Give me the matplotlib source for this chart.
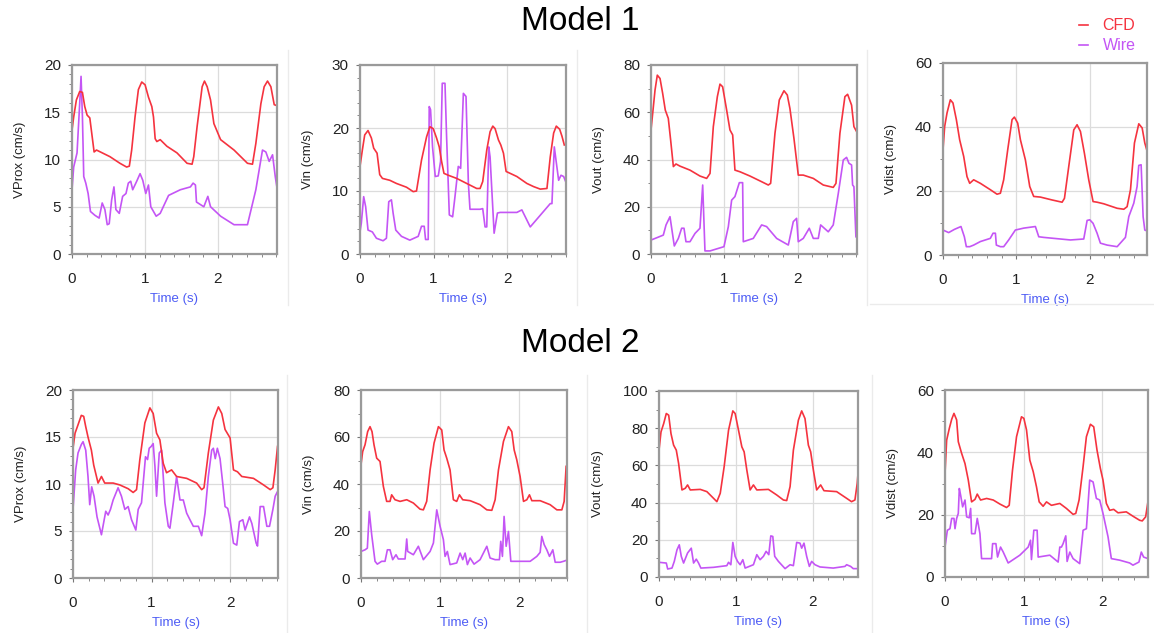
import numpy as np
import matplotlib.pyplot as plt
from matplotlib.lines import Line2D
from matplotlib.ticker import MultipleLocator

plt.rcParams['font.family'] = ['Liberation Sans', 'DejaVu Sans']

RED = '#f5333f'
PURPLE = '#c455f5'
BLUE = '#4d5cf5'

# ---- Model 1 : (time s, velocity cm/s) ----
m1_prox_cfd = [(0, 13.1), (0.023, 14.5), (0.06, 16.3), (0.106, 17.2), (0.143, 17.1), (0.175, 15.6),
               (0.207, 14.7), (0.244, 14.4), (0.303, 10.8), (0.336, 11.0), (0.52, 10.3), (0.657, 9.6),
               (0.749, 9.2), (0.786, 9.3), (0.818, 11.0), (0.864, 14.5), (0.91, 17.4), (0.956, 18.2),
               (1.002, 17.9), (1.048, 16.6), (1.094, 15.6), (1.117, 14.5), (1.14, 12.2), (1.163, 11.9),
               (1.209, 12.1), (1.301, 11.4), (1.439, 10.7), (1.577, 9.6), (1.646, 9.5), (1.669, 10.3),
               (1.715, 13.5), (1.784, 17.7), (1.816, 18.3), (1.853, 17.7), (1.899, 16.3), (1.945, 13.8),
               (2.037, 12.1), (2.221, 11.0), (2.313, 10.3), (2.405, 9.6), (2.474, 9.5), (2.52, 11.7),
               (2.589, 15.9), (2.634, 17.7), (2.68, 18.3), (2.726, 17.7), (2.772, 15.8), (2.809, 15.7)]
m1_prox_wire = [(0, 6.8), (0.023, 9.2), (0.069, 10.7), (0.106, 16.0), (0.124, 18.8), (0.143, 14.5),
                (0.161, 8.2), (0.189, 7.5), (0.221, 6.4), (0.253, 4.5), (0.313, 4.1), (0.372, 3.8),
                (0.414, 5.4), (0.451, 4.7), (0.483, 3.1), (0.51, 3.2), (0.543, 5.7), (0.575, 7.1),
                (0.602, 4.7), (0.648, 4.3), (0.694, 6.1), (0.74, 6.4), (0.772, 7.5), (0.805, 7.7),
                (0.832, 6.8), (0.887, 7.7), (0.933, 8.5), (0.97, 7.8), (1.011, 6.4), (1.048, 7.3),
                (1.08, 5.0), (1.154, 4.0), (1.209, 4.3), (1.324, 6.2), (1.485, 6.8), (1.623, 7.1),
                (1.66, 7.5), (1.692, 7.3), (1.706, 5.5), (1.807, 5.0), (1.862, 6.1), (1.899, 5.0),
                (2.037, 4.0), (2.221, 3.1), (2.405, 3.1), (2.52, 6.8), (2.611, 11.0), (2.657, 10.8),
                (2.703, 9.8), (2.749, 10.5), (2.786, 8.2), (2.818, 6.6)]

m1_in_cfd = [(0, 13.9), (0.032, 16.5), (0.064, 18.9), (0.109, 19.6), (0.155, 18.4), (0.186, 16.8),
             (0.232, 16.0), (0.268, 12.6), (0.305, 12.0), (0.405, 11.7), (0.495, 11.2), (0.632, 10.6),
             (0.723, 9.9), (0.768, 10.0), (0.836, 14.9), (0.905, 18.6), (0.95, 20.2), (0.995, 19.9),
             (1.041, 18.4), (1.077, 17.0), (1.109, 14.7), (1.141, 12.8), (1.2, 12.5), (1.314, 12.0),
             (1.45, 11.2), (1.586, 10.4), (1.632, 10.4), (1.668, 11.5), (1.723, 16.5), (1.768, 19.4),
             (1.805, 20.3), (1.836, 19.9), (1.882, 18.1), (1.914, 17.3), (1.95, 16.0), (1.986, 13.1),
             (2.041, 12.8), (2.132, 12.3), (2.268, 11.2), (2.359, 10.7), (2.45, 10.3), (2.541, 10.4),
             (2.586, 15.4), (2.632, 19.2), (2.668, 20.3), (2.714, 19.8), (2.745, 18.7), (2.777, 17.3)]
m1_in_wire = [(0, 3.5), (0.018, 4.9), (0.05, 9.1), (0.077, 7.5), (0.109, 3.8), (0.168, 3.5),
              (0.223, 2.5), (0.314, 2.1), (0.359, 2.5), (0.391, 8.3), (0.427, 8.6), (0.45, 6.5),
              (0.486, 3.8), (0.564, 2.8), (0.677, 2.2), (0.791, 2.8), (0.836, 4.4), (0.873, 4.4),
              (0.891, 2.3), (0.927, 2.3), (0.941, 23.4), (0.959, 22.9), (0.986, 17.0), (1.023, 12.3),
              (1.064, 12.4), (1.095, 14.7), (1.118, 27.1), (1.155, 27.1), (1.177, 18.6), (1.214, 6.2),
              (1.259, 5.9), (1.291, 9.1), (1.336, 13.9), (1.368, 13.6), (1.405, 25.5), (1.441, 25.0),
              (1.473, 11.2), (1.495, 7.1), (1.632, 7.1), (1.668, 7.2), (1.7, 4.3), (1.723, 4.3),
              (1.75, 17.0), (1.768, 15.4), (1.823, 3.3), (1.868, 6.5), (1.905, 6.6), (2.132, 6.6),
              (2.2, 7.0), (2.314, 4.3), (2.586, 8.0), (2.609, 8.0), (2.641, 17.0), (2.664, 14.9),
              (2.7, 11.7), (2.732, 12.5), (2.768, 12.3), (2.795, 11.5)]

m1_out_cfd = [(0, 52.5), (0.023, 59.5), (0.055, 69.4), (0.086, 75.7), (0.123, 74.3), (0.159, 68.0),
              (0.195, 60.9), (0.236, 57.4), (0.268, 48.2), (0.305, 37.0), (0.341, 38.1), (0.395, 37.2),
              (0.532, 35.5), (0.668, 33.0), (0.759, 32.0), (0.805, 34.1), (0.85, 53.9), (0.905, 66.6),
              (0.941, 71.9), (0.977, 70.8), (1.032, 60.9), (1.077, 52.5), (1.114, 50.4), (1.145, 35.5),
              (1.214, 34.8), (1.35, 33.0), (1.509, 30.6), (1.6, 29.2), (1.632, 29.9), (1.691, 51.1),
              (1.75, 65.2), (1.814, 69.1), (1.859, 67.3), (1.895, 61.6), (1.95, 48.9), (2.009, 33.4),
              (2.077, 33.4), (2.214, 32.0), (2.35, 29.2), (2.486, 28.2), (2.523, 29.9), (2.577, 51.1),
              (2.645, 66.6), (2.682, 67.6), (2.736, 63.0), (2.768, 53.9), (2.805, 51.8)]
m1_out_wire = [(0, 5.9), (0.168, 8.0), (0.205, 12.3), (0.259, 15.8), (0.318, 3.4), (0.373, 6.6),
               (0.418, 10.9), (0.45, 10.9), (0.477, 5.2), (0.532, 5.2), (0.6, 8.7), (0.668, 10.9),
               (0.705, 29.2), (0.736, 1.3), (0.805, 1.3), (0.995, 3.1), (1.055, 11.6), (1.1, 22.8),
               (1.145, 24.3), (1.205, 30.2), (1.25, 30.2), (1.259, 5.2), (1.395, 6.6), (1.509, 12.3),
               (1.577, 11.6), (1.714, 6.6), (1.873, 3.8), (1.941, 13.7), (1.986, 15.1), (2.009, 5.2),
               (2.077, 6.6), (2.159, 10.9), (2.214, 6.6), (2.282, 6.6), (2.314, 12.3), (2.418, 9.4),
               (2.486, 12.3), (2.555, 25.7), (2.623, 39.8), (2.668, 40.9), (2.7, 38.4), (2.736, 37.7),
               (2.75, 29.2), (2.768, 28.5), (2.795, 7.3)]

m1_dist_cfd = [(0, 32.9), (0.023, 40.2), (0.055, 44.4), (0.1, 48.5), (0.136, 47.5), (0.182, 42.3),
               (0.227, 36.0), (0.282, 30.8), (0.327, 24.5), (0.364, 22.4), (0.418, 23.5), (0.509, 22.4),
               (0.645, 20.4), (0.736, 19.0), (0.782, 19.3), (0.827, 23.5), (0.882, 32.9), (0.941, 42.3),
               (0.973, 43.1), (1.018, 41.2), (1.055, 36.0), (1.123, 29.7), (1.182, 21.4), (1.236, 18.3),
               (1.327, 18.1), (1.486, 17.2), (1.623, 16.5), (1.655, 17.7), (1.714, 27.7), (1.782, 39.1),
               (1.827, 40.7), (1.873, 38.6), (1.927, 31.8), (1.986, 23.5), (2.045, 16.7), (2.1, 16.5),
               (2.191, 16.0), (2.373, 14.6), (2.464, 14.3), (2.509, 15.1), (2.555, 20.4), (2.609, 35.0),
               (2.668, 41.0), (2.714, 39.7), (2.75, 35.0), (2.782, 32.4)]
m1_dist_wire = [(0, 7.8), (0.077, 7.0), (0.155, 8.0), (0.245, 8.9), (0.291, 5.7), (0.318, 2.6),
                (0.364, 2.6), (0.418, 3.1), (0.509, 4.2), (0.645, 5.2), (0.682, 6.8), (0.714, 6.8),
                (0.727, 3.1), (0.782, 2.6), (0.827, 2.6), (0.895, 4.7), (0.986, 7.8), (1.1, 8.4),
                (1.259, 8.9), (1.305, 5.7), (1.373, 5.5), (1.736, 4.7), (1.918, 5.0), (1.964, 10.8),
                (2.0, 11.0), (2.045, 9.9), (2.1, 6.8), (2.145, 3.7), (2.236, 3.1), (2.373, 2.6),
                (2.486, 5.5), (2.532, 12.0), (2.6, 16.2), (2.645, 21.4), (2.668, 28.0), (2.7, 28.2),
                (2.727, 12.0), (2.75, 7.8), (2.782, 7.5)]

# ---- Model 2 ----
m2_prox_cfd = [(0, 13.8), (0.026, 15.4), (0.064, 16.3), (0.106, 17.3), (0.136, 17.2), (0.162, 16.1),
               (0.191, 15.0), (0.234, 13.6), (0.264, 12.0), (0.319, 10.1), (0.362, 10.8), (0.404, 10.1),
               (0.511, 10.1), (0.596, 9.9), (0.702, 9.5), (0.766, 9.1), (0.809, 9.4), (0.851, 12.6),
               (0.915, 16.5), (0.979, 18.1), (1.021, 17.5), (1.064, 15.4), (1.106, 14.7), (1.149, 12.2),
               (1.191, 11.2), (1.255, 11.5), (1.319, 10.8), (1.447, 10.6), (1.574, 10.1), (1.638, 9.4),
               (1.668, 9.6), (1.723, 13.3), (1.787, 16.8), (1.851, 18.2), (1.894, 17.5), (1.936, 15.8),
               (2.0, 14.9), (2.043, 11.5), (2.094, 11.3), (2.149, 10.8), (2.298, 10.6), (2.426, 9.9),
               (2.511, 9.4), (2.545, 9.6), (2.574, 11.5), (2.604, 14.0)]
m2_prox_wire = [(0, 7.3), (0.034, 11.5), (0.064, 13.3), (0.106, 14.2), (0.128, 14.5), (0.162, 13.6),
                (0.191, 10.8), (0.213, 7.8), (0.238, 9.7), (0.268, 8.7), (0.306, 6.5), (0.362, 4.6),
                (0.417, 7.1), (0.447, 6.7), (0.477, 7.3), (0.511, 8.3), (0.574, 9.6), (0.617, 8.7),
                (0.66, 7.3), (0.702, 7.6), (0.745, 6.2), (0.8, 5.1), (0.83, 7.3), (0.872, 8.0),
                (0.923, 12.9), (0.949, 12.6), (0.97, 13.8), (0.996, 14.0), (1.021, 14.3), (1.043, 11.9),
                (1.064, 8.7), (1.098, 13.3), (1.128, 13.6), (1.17, 8.0), (1.213, 5.5), (1.234, 5.3),
                (1.277, 8.0), (1.319, 10.8), (1.362, 8.3), (1.404, 8.3), (1.447, 6.9), (1.489, 6.2),
                (1.532, 5.5), (1.596, 5.5), (1.638, 4.5), (1.681, 6.9), (1.723, 10.8), (1.766, 13.6),
                (1.787, 13.8), (1.811, 12.7), (1.838, 13.8), (1.872, 12.7), (1.906, 10.1), (1.936, 7.6),
                (1.97, 7.4), (2.0, 6.2), (2.043, 3.7), (2.085, 3.5), (2.119, 6.0), (2.162, 6.2),
                (2.191, 5.1), (2.247, 6.5), (2.277, 5.8), (2.332, 3.7), (2.349, 3.4), (2.383, 7.6),
                (2.426, 7.6), (2.468, 5.5), (2.502, 5.5), (2.545, 7.3), (2.574, 8.7), (2.604, 9.2)]

m2_in_cfd = [(0, 48.2), (0.021, 53.8), (0.051, 56.7), (0.084, 62.3), (0.114, 64.4), (0.139, 62.3),
             (0.164, 56.7), (0.198, 51.0), (0.24, 49.6), (0.282, 39.0), (0.324, 32.6), (0.366, 32.6),
             (0.387, 35.4), (0.429, 33.3), (0.493, 32.6), (0.577, 33.3), (0.661, 31.9), (0.745, 29.3),
             (0.787, 29.0), (0.829, 32.6), (0.872, 46.0), (0.922, 57.4), (0.977, 64.4), (1.019, 63.0),
             (1.048, 54.5), (1.082, 51.0), (1.124, 46.0), (1.166, 33.3), (1.208, 32.6), (1.242, 35.4),
             (1.284, 33.3), (1.377, 32.9), (1.503, 31.2), (1.588, 29.0), (1.651, 28.8), (1.693, 33.3),
             (1.735, 46.0), (1.798, 58.1), (1.861, 64.4), (1.903, 62.3), (1.933, 54.5), (1.966, 50.3),
             (2.008, 43.2), (2.051, 32.6), (2.093, 33.3), (2.126, 35.4), (2.156, 32.9), (2.261, 32.9),
             (2.387, 31.2), (2.472, 29.0), (2.535, 29.0), (2.564, 32.6), (2.589, 47.5)]
m2_in_wire = [(0, 11.3), (0.051, 12.0), (0.08, 12.7), (0.105, 28.3), (0.135, 18.4), (0.177, 7.1),
              (0.206, 5.9), (0.261, 7.1), (0.303, 7.1), (0.333, 12.0), (0.366, 12.0), (0.4, 7.8),
              (0.442, 9.9), (0.471, 8.1), (0.556, 8.1), (0.577, 16.6), (0.589, 11.3), (0.661, 9.9),
              (0.724, 13.5), (0.787, 7.8), (0.872, 11.3), (0.914, 14.9), (0.956, 29.0), (0.998, 22.0),
              (1.04, 16.3), (1.061, 9.2), (1.09, 11.3), (1.124, 5.7), (1.208, 6.4), (1.251, 10.6),
              (1.284, 7.8), (1.314, 10.6), (1.343, 5.7), (1.377, 8.5), (1.427, 5.9), (1.503, 7.8),
              (1.588, 13.5), (1.629, 8.5), (1.693, 7.8), (1.747, 7.8), (1.764, 15.6), (1.785, 9.2),
              (1.806, 26.2), (1.832, 13.5), (1.861, 19.8), (1.891, 7.1), (1.945, 7.1), (2.135, 7.1),
              (2.219, 9.2), (2.261, 10.9), (2.282, 17.7), (2.312, 14.2), (2.345, 12.0), (2.379, 9.2),
              (2.421, 12.0), (2.451, 6.7), (2.514, 6.7), (2.556, 7.1), (2.589, 7.5)]

m2_out_cfd = [(0, 68.2), (0.026, 78.0), (0.061, 82.5), (0.095, 87.9), (0.126, 87.0), (0.156, 77.1),
              (0.19, 70.9), (0.225, 68.2), (0.255, 61.1), (0.299, 46.8), (0.342, 47.7), (0.372, 49.5),
              (0.407, 46.8), (0.537, 47.1), (0.623, 45.9), (0.71, 42.3), (0.753, 40.5), (0.797, 45.0),
              (0.848, 59.3), (0.905, 78.9), (0.961, 89.3), (0.991, 87.9), (1.035, 78.9), (1.078, 70.0),
              (1.108, 67.3), (1.143, 57.5), (1.186, 46.8), (1.229, 49.5), (1.273, 46.8), (1.424, 47.1),
              (1.532, 44.1), (1.619, 41.4), (1.662, 41.1), (1.706, 48.6), (1.749, 68.2), (1.814, 84.3),
              (1.857, 89.3), (1.9, 85.2), (1.944, 70.9), (1.974, 67.3), (2.009, 57.5), (2.052, 46.8),
              (2.104, 49.5), (2.147, 46.4), (2.312, 45.9), (2.442, 42.3), (2.506, 40.5), (2.55, 41.4),
              (2.58, 50.4), (2.597, 59.3)]
m2_out_wire = [(0, 7.9), (0.095, 7.5), (0.113, 4.3), (0.169, 4.8), (0.199, 8.4), (0.234, 14.6),
               (0.264, 17.3), (0.29, 11.1), (0.32, 7.5), (0.372, 12.9), (0.42, 15.5), (0.45, 7.5),
               (0.485, 9.6), (0.515, 7.5), (0.545, 4.8), (0.71, 5.2), (0.883, 6.1), (0.905, 7.9),
               (0.935, 6.6), (0.961, 18.6), (0.991, 11.1), (1.022, 8.4), (1.056, 6.6), (1.091, 9.3),
               (1.121, 4.8), (1.229, 6.6), (1.273, 12.0), (1.316, 9.3), (1.359, 11.1), (1.394, 13.8),
               (1.429, 12.0), (1.455, 22.1), (1.481, 21.8), (1.506, 11.1), (1.554, 8.4), (1.641, 4.5),
               (1.706, 6.6), (1.749, 6.1), (1.792, 18.6), (1.835, 18.2), (1.857, 15.5), (1.887, 18.2),
               (1.922, 11.1), (1.957, 5.7), (1.987, 8.4), (2.03, 6.6), (2.095, 5.4), (2.268, 4.8),
               (2.42, 5.7), (2.442, 6.6), (2.494, 5.7), (2.528, 4.5), (2.571, 4.5)]

m2_dist_cfd = [(0, 33.2), (0.021, 43.9), (0.055, 47.7), (0.085, 50.6), (0.114, 52.5), (0.148, 50.4),
               (0.169, 43.4), (0.211, 39.7), (0.254, 36.4), (0.296, 31.1), (0.338, 24.1), (0.381, 24.9),
               (0.41, 26.6), (0.452, 24.7), (0.529, 25.2), (0.613, 24.7), (0.698, 23.4), (0.782, 22.3),
               (0.816, 23.0), (0.858, 34.3), (0.909, 45.0), (0.972, 51.4), (1.002, 50.9), (1.036, 47.2),
               (1.078, 37.5), (1.121, 33.8), (1.163, 28.9), (1.197, 24.1), (1.247, 22.7), (1.29, 24.1),
               (1.353, 23.0), (1.459, 23.6), (1.543, 22.0), (1.628, 20.1), (1.662, 20.4), (1.704, 24.7),
               (1.755, 35.4), (1.797, 45.0), (1.848, 49.0), (1.89, 48.2), (1.932, 40.7), (1.975, 34.8),
               (2.008, 31.1), (2.051, 23.6), (2.093, 21.4), (2.144, 21.7), (2.199, 20.6), (2.304, 20.9),
               (2.389, 19.5), (2.474, 18.2), (2.507, 18.0), (2.55, 19.3), (2.579, 24.1)]
m2_dist_wire = [(0, 9.6), (0.03, 15.0), (0.063, 15.5), (0.085, 18.8), (0.114, 18.8), (0.127, 15.5),
                (0.148, 18.8), (0.169, 20.4), (0.182, 28.4), (0.199, 26.2), (0.224, 22.5), (0.254, 24.7),
                (0.275, 19.3), (0.309, 19.0), (0.326, 22.0), (0.338, 13.9), (0.381, 13.9), (0.41, 18.8),
                (0.444, 13.9), (0.465, 5.9), (0.592, 5.9), (0.605, 10.7), (0.647, 10.7), (0.668, 6.4),
                (0.706, 9.6), (0.74, 8.0), (0.803, 4.5), (0.951, 7.0), (1.057, 9.6), (1.087, 11.8),
                (1.099, 5.6), (1.129, 15.0), (1.171, 15.0), (1.184, 6.4), (1.332, 7.0), (1.438, 4.8),
                (1.459, 9.6), (1.48, 9.6), (1.501, 10.7), (1.535, 13.2), (1.552, 5.0), (1.586, 8.0),
                (1.628, 5.9), (1.712, 4.3), (1.755, 15.0), (1.797, 15.5), (1.839, 31.1), (1.882, 30.5),
                (1.924, 25.2), (1.966, 24.7), (2.008, 20.4), (2.072, 12.9), (2.114, 5.9), (2.22, 5.4),
                (2.347, 4.5), (2.389, 3.8), (2.465, 4.8), (2.495, 8.0), (2.524, 6.4), (2.579, 5.9)]

W, H = 1154, 633
fig = plt.figure(figsize=(W / 100, H / 100), dpi=100)


def box(x0, x1, y0, y1):
    # pixel box -> figure fraction rect
    return [x0 / W, 1 - y1 / H, (x1 - x0) / W, (y1 - y0) / H]


panels = [
    # rect, cfd, wire, ylabel, ymax, ymajor, yminor, xmax
    (box(72, 277, 65, 254), m1_prox_cfd, m1_prox_wire, 'VProx (cm/s)', 20, 5, 1, 2.81),
    (box(360, 566, 65, 254), m1_in_cfd, m1_in_wire, 'Vin (cm/s)', 30, 10, 2, 2.8),
    (box(651, 857, 65, 254), m1_out_cfd, m1_out_wire, 'Vout (cm/s)', 80, 20, 10, 2.81),
    (box(943, 1147, 63, 255), m1_dist_cfd, m1_dist_wire, 'Vdist (cm/s)', 60, 20, 10, 2.78),
    (box(73, 278, 390, 578), m2_prox_cfd, m2_prox_wire, 'VProx (cm/s)', 20, 5, 1, 2.61),
    (box(361, 567, 390, 578), m2_in_cfd, m2_in_wire, 'Vin (cm/s)', 80, 20, 10, 2.6),
    (box(659, 858, 391, 577), m2_out_cfd, m2_out_wire, 'Vout (cm/s)', 100, 20, 10, 2.59),
    (box(945, 1148, 390, 577), m2_dist_cfd, m2_dist_wire, 'Vdist (cm/s)', 60, 20, 10, 2.58),
]

for rect, cfd, wire, ylab, ymax, ymaj, ymin, xmax in panels:
    ax = fig.add_axes(rect)
    c = np.array(cfd)
    w = np.array(wire)
    ax.plot(w[:, 0], w[:, 1], color=PURPLE, lw=1.2)
    ax.plot(c[:, 0], c[:, 1], color=RED, lw=1.2)
    ax.set_xlim(0, xmax)
    ax.set_ylim(0, ymax)
    ax.xaxis.set_major_locator(MultipleLocator(1))
    ax.xaxis.set_minor_locator(MultipleLocator(0.2))
    ax.yaxis.set_major_locator(MultipleLocator(ymaj))
    ax.yaxis.set_minor_locator(MultipleLocator(ymin))
    ax.grid(True, which='major', color='#dcdcdc', lw=0.9)
    ax.set_axisbelow(True)
    for s in ax.spines.values():
        s.set_color('#9a9a9a')
        s.set_linewidth(1.6)
    ax.tick_params(which='major', length=3, width=0.8, color='#777777', labelsize=11,
                   labelcolor='#222222')
    ax.tick_params(which='minor', length=2.2, width=0.7, color='#888888')
    ax.tick_params(axis='x', which='major', pad=10)
    ax.tick_params(axis='y', which='major', pad=5)
    ax.set_xlabel('Time (s)', color=BLUE, fontsize=9.5, labelpad=5)
    ax.set_ylabel(ylab, color='#222222', fontsize=9.5, labelpad=13)

fig.text(0.503, 1 - 22 / H, 'Model 1', ha='center', va='center', fontsize=24)
fig.text(0.503, 1 - 343 / H, 'Model 2', ha='center', va='center', fontsize=24)

handles = [Line2D([], [], color=RED, lw=1.2), Line2D([], [], color=PURPLE, lw=1.2)]
fig.legend(handles, ['CFD', 'Wire'], loc='upper right', bbox_to_anchor=(1150 / W, 1 - 4 / H),
           frameon=False, handlelength=0.6, handletextpad=0.9, labelspacing=0.3,
           fontsize=11.5, labelcolor='linecolor')

# faint panel borders
sep = '#ebebeb'
for x in (288, 577, 867):
    fig.add_artist(Line2D([x / W, x / W], [1 - 50 / H, 1 - 305 / H], color=sep, lw=1))
fig.add_artist(Line2D([870 / W, 1], [1 - 304 / H, 1 - 304 / H], color=sep, lw=1))
for x in (287, 587, 872):
    fig.add_artist(Line2D([x / W, x / W], [1 - 375 / H, 0], color=sep, lw=1))

fig.savefig('out.png', dpi=100)
